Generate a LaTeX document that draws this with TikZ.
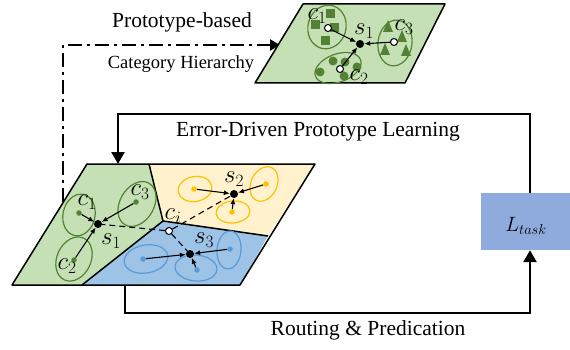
\documentclass[tikz,border=0pt]{standalone}
\usepackage{fontspec}
\setmainfont{Liberation Serif}
\usetikzlibrary{arrows.meta}
\definecolor{leafgreen}{HTML}{C5E0B4}
\definecolor{darkgreen}{HTML}{548235}
\definecolor{paleyellow}{HTML}{FFF2CC}
\definecolor{gold}{HTML}{FFC000}
\definecolor{skyblue}{HTML}{9DC3E6}
\definecolor{deepblue}{HTML}{5B9BD5}
\definecolor{lossblue}{HTML}{8FAADC}
\begin{document}
\begin{tikzpicture}[x=1pt,y=-1pt,
  edge/.style={line width=1.5pt,line join=round},
  flow/.style={line width=2.5pt,-{Triangle[length=12pt,width=13pt]}},
  pull/.style={line width=1.1pt,-{Latex[length=6pt,width=5pt]}},
  ring/.style={draw=#1,line width=1.2pt},
  sdot/.style={circle,fill=black,inner sep=0pt,minimum size=8pt},
  odot/.style={circle,draw=black,fill=white,line width=1pt,inner sep=0pt,minimum size=7pt},
  cdot/.style={circle,fill=#1,inner sep=0pt,minimum size=5.5pt},
  lab/.style={font=\fontsize{23}{27}\selectfont,inner sep=0pt},
  txt/.style={font=\fontsize{21.5}{25}\selectfont,inner sep=0pt}]
  \useasboundingbox (0,0) rectangle (570,350);

  % dash-dot route to the hierarchy
  \coordinate (dd) at (63,202);
  \coordinate (hier) at (280,45);
  \draw[line width=2.5pt,dash pattern=on 14pt off 5pt on 3pt off 5pt,
        -{Triangle[length=10pt,width=11pt]}] (dd) |- (hier);
  \node[txt] (pb) at (182,22) {Prototype-based};
  \node[txt,font=\fontsize{18.5}{22}\selectfont] (ch) at (181,64) {Category Hierarchy};

  % top plane
  \fill[leafgreen] (255,83) -- (405,83) -- (445,4) -- (303,4) -- cycle;
  \draw[edge] (255,83) -- (405,83) -- (445,4) -- (303,4) -- cycle;
  \draw[ring=darkgreen,rotate around={-15:(327,27)}] (327,27) ellipse [x radius=19pt,y radius=22pt];
  \draw[ring=darkgreen,rotate around={-8:(395,43)}] (395,43) ellipse [x radius=17pt,y radius=23pt];
  \draw[ring=darkgreen,rotate around={20:(338,68)}] (338,68) ellipse [x radius=24pt,y radius=14pt];
  \foreach \x/\y in {330/14, 315/25, 334/28, 325/41}
    \fill[darkgreen] (\x-4.5,\y-4.5) rectangle (\x+4.5,\y+4.5);
  \foreach \x/\y in {388/27, 402/37, 385/50, 406/51}
    \fill[darkgreen] (\x,\y-7) -- (\x+5,\y+5) -- (\x-5,\y+5) -- cycle;
  \foreach \x/\y in {333/61, 345/62, 320/72, 357/67, 344/76}
    \fill[darkgreen] (\x,\y) circle (4.5pt);
  \node[sdot] (ts1) at (360,44) {};
  \node[odot] (tc1) at (328,28) {};
  \node[odot] (tc3) at (394,42) {};
  \node[odot] (tc2) at (340,69) {};
  \draw[pull] (tc1) -- (ts1);
  \draw[pull] (tc3) -- (ts1);
  \draw[pull] (tc2) -- (ts1);
  \node[lab] (tl1) at (317,16) {$c_1$};
  \node[lab] (tls) at (364,31) {$s_1$};
  \node[lab] (tl3) at (404,27) {$c_3$};
  \node[lab] (tl2) at (359,77) {$c_2$};

  % main plane
  \coordinate (j) at (163,221);
  \fill[leafgreen] (12,285) -- (87,164) -- (149,164) -- (j) -- (82,285) -- cycle;
  \fill[paleyellow] (149,164) -- (315,164) -- (268,236) -- (j) -- cycle;
  \fill[skyblue] (j) -- (268,236) -- (240,285) -- (82,285) -- cycle;
  \draw[edge] (12,285) -- (87,164) -- (315,164) -- (240,285) -- cycle;
  \draw[edge] (149,164) -- (j) -- (268,236);
  \draw[edge] (j) -- (82,285);

  \draw[ring=darkgreen,rotate around={-12:(79,215)}] (79,215) ellipse [x radius=16pt,y radius=21pt];
  \draw[ring=darkgreen,rotate around={-30:(137,204)}] (137,204) ellipse [x radius=17pt,y radius=24pt];
  \draw[ring=darkgreen,rotate around={-25:(74,259)}] (74,259) ellipse [x radius=17pt,y radius=23pt];
  \draw[ring=gold,rotate around={10:(195,189)}] (195,189) ellipse [x radius=17pt,y radius=12.5pt];
  \draw[ring=gold,rotate around={-25:(264,184)}] (264,184) ellipse [x radius=13pt,y radius=18pt];
  \draw[ring=gold,rotate around={5:(233,212)}] (233,212) ellipse [x radius=17pt,y radius=11pt];
  \draw[ring=deepblue,rotate around={10:(146,259)}] (146,259) ellipse [x radius=22pt,y radius=14pt];
  \draw[ring=deepblue,rotate around={-5:(229,250)}] (229,250) ellipse [x radius=12pt,y radius=19pt];
  \draw[ring=deepblue,rotate around={-5:(196,268)}] (196,268) ellipse [x radius=21pt,y radius=13pt];

  \node[sdot] (s1) at (98,224) {};
  \node[sdot] (s2) at (234,194) {};
  \node[sdot] (s3) at (190,254) {};
  \node[cdot=darkgreen] (c1) at (79,213) {};
  \node[cdot=darkgreen] (c3) at (136,202) {};
  \node[cdot=darkgreen] (c2) at (74,260) {};
  \node[cdot=gold] (y1) at (194,189) {};
  \node[cdot=gold] (y2) at (266,184) {};
  \node[cdot=gold] (y3) at (232,212) {};
  \node[cdot=deepblue] (b1) at (143,259) {};
  \node[cdot=deepblue] (b2) at (230,249) {};
  \node[cdot=deepblue] (b3) at (197,270) {};
  \node[odot] (ci) at (169,231) {};
  \foreach \a/\b in {c1/s1, c3/s1, c2/s1, y1/s2, y2/s2, y3/s2, b1/s3, b2/s3, b3/s3}
    \draw[pull] (\a) -- (\b);
  \foreach \b in {s1, s2, s3}
    \draw[line width=1.1pt,dash pattern=on 6pt off 4pt] (ci) -- (\b);
  \node[lab] (l1) at (87,202) {$c_1$};
  \node[lab] (l3) at (140,192) {$c_3$};
  \node[lab] (l2) at (67,266) {$c_2$};
  \node[lab] (ls1) at (111,241) {$s_1$};
  \node[lab] (ls2) at (234,179) {$s_2$};
  \node[lab] (ls3) at (204,240) {$s_3$};
  \node[lab] (lci) at (173,216) {$c_i$};

  % loss and the loop
  \node[fill=lossblue,minimum width=98pt,minimum height=57pt] (loss) at (530,221.5) {};
  \node[lab,font=\fontsize{22}{26}\selectfont] (lt) at (526,226) {$L_{task}$};
  \coordinate (turn) at (118,114);
  \coordinate (in) at (118,164);
  \coordinate (out) at (125,285);
  \coordinate (low) at (125,313);
  \draw[flow] (loss.north) |- (turn) -- (in);
  \draw[flow] (out) -- (low) -| (loss.south);
  \node[txt] (edl) at (318,132) {Error-Driven Prototype Learning};
  \node[txt] (rp) at (368,330) {Routing \& Predication};
\end{tikzpicture}
\end{document}
